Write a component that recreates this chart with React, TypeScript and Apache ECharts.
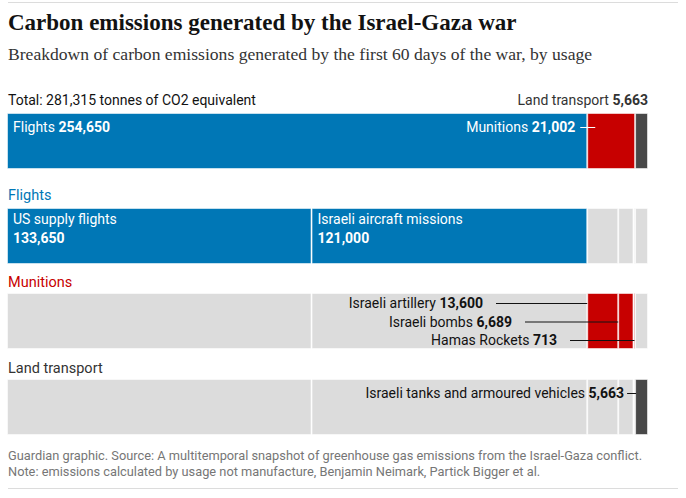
import React, { useEffect, useRef } from 'react';
import * as echarts from 'echarts';

// ---- data ----
const totalLabel = 'Total: 281,315 tonnes of CO2 equivalent';
const overviewNames = ['Flights', 'Munitions', 'Land transport'];
const overviewValues = [254650, 21002, 5663];
const itemNames = [
  'US supply flights',
  'Israeli aircraft missions',
  'Israeli artillery',
  'Israeli bombs',
  'Hamas Rockets',
  'Israeli tanks and armoured vehicles',
];
const itemValues = [133650, 121000, 13600, 6689, 713, 5663];
const itemGroup = [0, 0, 1, 1, 1, 2];

const titleText = 'Carbon emissions generated by the Israel-Gaza war';
const subtitleText = 'Breakdown of carbon emissions generated by the first 60 days of the war, by usage';
const footer1 = 'Guardian graphic. Source: A multitemporal snapshot of greenhouse gas emissions from the Israel-Gaza conflict.';
const footer2 = 'Note: emissions calculated by usage not manufacture, Benjamin Neimark, Partick Bigger et al.';

// ---- styles ----
const groupColors = ['#0077b6', '#c70000', '#484848'];
const groupLabelColors = ['#0077b6', '#c70000', '#333333'];
const grey = '#dcdcdc';
const SANS = 'Roboto, "Noto Sans", sans-serif';
const SERIF = '"Liberation Serif", "DejaVu Serif", serif';
const rowTops = [113, 208, 293, 379];
const rowH = 56;
const groupLabelY = [195, 282, 368];

const fmt = (v: number) => v.toLocaleString('en-US');

export default function App() {
  const ref = useRef<HTMLDivElement>(null);
  useEffect(() => {
    if (!ref.current) return;
    const chart = echarts.init(ref.current, null, { renderer: 'svg' });
    const total = overviewValues.reduce((a, b) => a + b, 0);

    const grids = rowTops.map((t) => ({ left: 7, right: 38, top: t, height: rowH }));
    const xAxes = rowTops.map((_, i) => ({
      type: 'value', gridIndex: i, min: 0, max: total, show: false,
    }));
    const yAxes = rowTops.map((_, i) => ({
      type: 'category', gridIndex: i, data: ['r'], show: false,
    }));
    const border = { borderColor: 'rgba(255,255,255,0.55)', borderWidth: 1 };
    const series: any[] = [];
    overviewValues.forEach((v, k) => {
      series.push({
        type: 'bar', name: overviewNames[k], stack: 'r0', xAxisIndex: 0, yAxisIndex: 0,
        data: [v], barWidth: '100%', silent: true,
        itemStyle: { color: groupColors[k], ...border },
      });
    });
    for (let g = 0; g < 3; g++) {
      itemValues.forEach((v, j) => {
        series.push({
          type: 'bar', name: itemNames[j], stack: 'r' + (g + 1), xAxisIndex: g + 1, yAxisIndex: g + 1,
          data: [v], barWidth: '100%', silent: true,
          itemStyle: { color: itemGroup[j] === g ? groupColors[g] : grey, ...border },
        });
      });
    }

    chart.setOption({
      animation: false,
      grid: grids,
      xAxis: xAxes,
      yAxis: yAxes,
      series,
    });

    const px = (row: number, v: number) => chart.convertToPixel({ xAxisIndex: row }, v) as number;
    const cum = (arr: number[], n: number) => arr.slice(0, n).reduce((a, b) => a + b, 0);

    const txt = (x: number, y: number, text: string, o: any = {}) => ({
      type: 'text', x, y, silent: true, z: 100,
      style: {
        text, fontFamily: SANS, fontSize: 14, fill: '#121212', verticalAlign: 'middle', align: 'left', ...o,
      },
    });
    const rich = (x: number, y: number, name: string, val: string, fill: string, align = 'left') =>
      txt(x, y, `{n|${name} }{v|${val}}`, {
        align, fill,
        rich: {
          n: { fontFamily: SANS, fontSize: 14, fill },
          v: { fontFamily: SANS, fontSize: 14, fontWeight: 'bold', fill },
        },
      });
    const line = (x1: number, x2: number, y: number, stroke: string) => ({
      type: 'line', silent: true, z: 100, shape: { x1, y1: y, x2, y2: y }, style: { stroke, lineWidth: 1 },
    });

    const g: any[] = [];
    g.push(line(8, 678, 2.5, '#dcdcdc'));
    g.push(txt(8, 22, titleText, { fontFamily: SERIF, fontSize: 23, fontWeight: 'bold' }));
    g.push(txt(8, 54, subtitleText, { fontFamily: SERIF, fontSize: 17.6, fill: '#333333' }));

    // overview row
    const endX = px(0, total);
    g.push(txt(8, 100, totalLabel));
    g.push(rich(endX, 100, overviewNames[2], fmt(overviewValues[2]), '#333333', 'right'));
    g.push(rich(13, 127, overviewNames[0], fmt(overviewValues[0]), '#ffffff'));
    const munStart = px(0, cum(overviewValues, 1));
    g.push(rich(munStart - 12, 127, overviewNames[1], fmt(overviewValues[1]), '#ffffff', 'right'));
    g.push(line(munStart - 7, munStart + 8, 127.5, '#ffffff'));

    // group labels
    overviewNames.forEach((n, k) => {
      g.push(txt(8, groupLabelY[k], n, { fill: groupLabelColors[k], fontSize: 14.5 }));
    });

    // flights row
    [0, 1].forEach((j) => {
      const s = px(1, cum(itemValues, j));
      g.push(txt(s + 6, 219, itemNames[j], { fill: '#ffffff' }));
      g.push(txt(s + 6, 238, fmt(itemValues[j]), { fill: '#ffffff', fontWeight: 'bold' }));
    });

    // munitions row
    const munTextRight = [483, 512, 557];
    const munY = [303, 321.5, 340];
    [2, 3, 4].forEach((j, k) => {
      const s = px(2, cum(itemValues, j));
      g.push(rich(munTextRight[k], munY[k], itemNames[j], fmt(itemValues[j]), '#121212', 'right'));
      g.push(line(munTextRight[k] + 13, s + (k === 2 ? 1 : 0), munY[k] + 0.5, '#121212'));
    });

    // land transport row
    const tankStart = px(3, cum(itemValues, 5));
    g.push(rich(tankStart - 11, 393, itemNames[5], fmt(itemValues[5]), '#121212', 'right'));
    g.push(line(tankStart - 8, tankStart + 1, 393.5, '#121212'));

    // footer
    g.push(txt(8, 455, footer1, { fill: '#767676', fontSize: 12.8 }));
    g.push(txt(8, 471, footer2, { fill: '#767676', fontSize: 12.8 }));
    g.push(line(8, 678, 488.5, '#dcdcdc'));

    chart.setOption({ graphic: g });
    return () => chart.dispose();
  }, []);
  return (
    <div
      ref={ref}
      style={{ position: 'fixed', left: 0, top: 0, width: 686, height: 498, background: '#ffffff' }}
    />
  );
}
